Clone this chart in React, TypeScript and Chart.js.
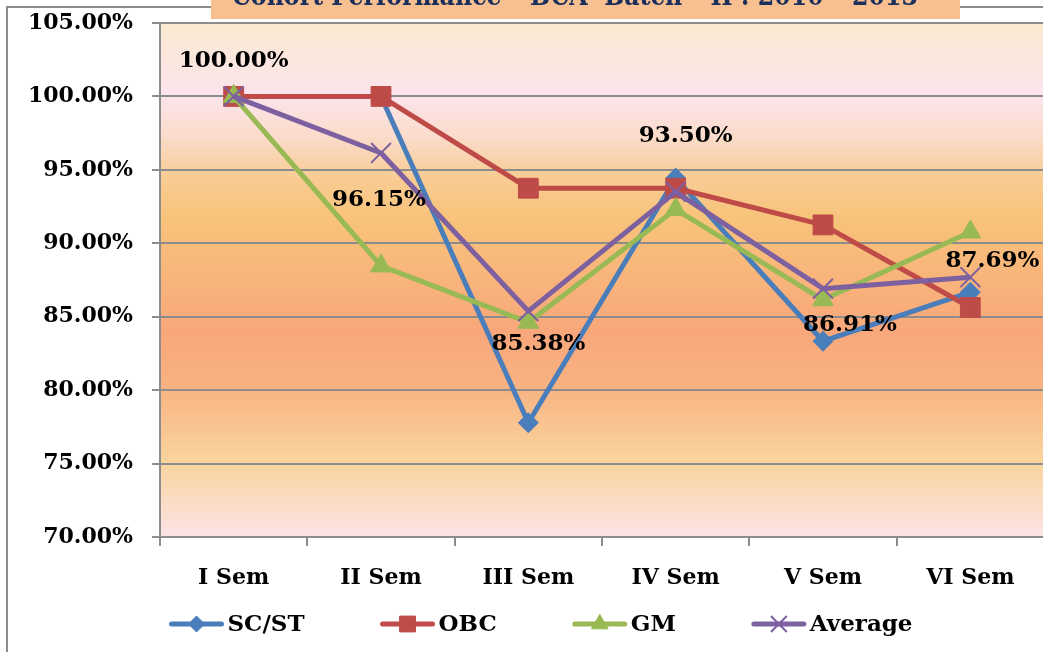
import React, { useEffect, useRef } from 'react';
import { Chart, registerables } from 'chart.js';
import { drawPoint } from 'chart.js/helpers';

Chart.register(...registerables);

const TITLE = 'Cohort Performance – BCA  Batch – II : 2010 – 2013';
const categories = ['I Sem', 'II Sem', 'III Sem', 'IV Sem', 'V Sem', 'VI Sem'];
const seriesNames = ['SC/ST', 'OBC', 'GM', 'Average'];
const scst = [100, 100, 77.78, 94.44, 83.33, 86.67];
const obc = [100, 100, 93.75, 93.75, 91.25, 85.63];
const gm = [100, 88.46, 84.62, 92.31, 86.15, 90.77];
const average = [100, 96.15, 85.38, 93.5, 86.91, 87.69];
const yMin = 70;
const yMax = 105;
const yStep = 5;

// label placement offsets (style only) for the Average data labels
const labelOffsets = [
  [0, -35],
  [-2, 47],
  [10, 33],
  [10, -56],
  [27, 36],
  [22, -16],
];

const FONT = 'DejaVu Serif';
const COLORS = ['#4A7EBB', '#BE4B48', '#98B954', '#7D60A0'];

const backgroundPlugin = {
  id: 'bgPlugin',
  beforeDraw(chart: any) {
    const { ctx, chartArea } = chart;
    const { left, right, top, bottom } = chartArea;
    ctx.save();
    const g = ctx.createLinearGradient(0, top, 0, bottom);
    g.addColorStop(0, '#FAE9D0');
    g.addColorStop(0.14, '#FCE4EC');
    g.addColorStop(0.22, '#FBDCCB');
    g.addColorStop(0.3, '#F9CC94');
    g.addColorStop(0.38, '#F8C37A');
    g.addColorStop(0.6, '#F8A77B');
    g.addColorStop(0.7, '#F8B181');
    g.addColorStop(0.85, '#F9D49C');
    g.addColorStop(1, '#FCE3E6');
    ctx.fillStyle = g;
    ctx.fillRect(left, top, right - left, bottom - top);
    // outer frame
    ctx.strokeStyle = '#8C8C8C';
    ctx.lineWidth = 2;
    ctx.beginPath();
    ctx.moveTo(7, 660);
    ctx.lineTo(7, 7);
    ctx.lineTo(1070, 7);
    ctx.stroke();
    ctx.restore();
  },
};

const labelPlugin = {
  id: 'avgLabels',
  afterDatasetsDraw(chart: any) {
    const { ctx } = chart;
    const meta = chart.getDatasetMeta(3);
    const data = chart.data.datasets[3].data as number[];
    ctx.save();
    ctx.font = `bold 23px "${FONT}"`;
    ctx.fillStyle = '#000';
    ctx.textAlign = 'center';
    ctx.textBaseline = 'middle';
    meta.data.forEach((pt: any, i: number) => {
      const [dx, dy] = labelOffsets[i];
      ctx.fillText(data[i].toFixed(2) + '%', pt.x + dx, pt.y + dy);
    });
    ctx.restore();
  },
};

const titleLegendPlugin = {
  id: 'titleLegend',
  afterDraw(chart: any) {
    const { ctx } = chart;
    ctx.save();
    // title box (cut off at top)
    ctx.fillStyle = '#F8C090';
    ctx.fillRect(211, 0, 749, 19);
    ctx.font = `bold 27px "${FONT}"`;
    ctx.fillStyle = '#1B2F5C';
    ctx.textBaseline = 'alphabetic';
    ctx.textAlign = 'left';
    const tw = ctx.measureText(TITLE).width;
    const target = 686;
    ctx.translate(232, 5);
    ctx.scale(target / tw, 1);
    ctx.fillText(TITLE, 0, 0);
    ctx.restore();

    // legend
    ctx.save();
    ctx.font = `bold 23px "${FONT}"`;
    const lineW = 54;
    const gapText = 4;
    const gapItem = 76;
    const widths = chart.data.datasets.map((d: any) => ctx.measureText(d.label).width);
    const total =
      widths.reduce((a: number, w: number) => a + lineW + gapText + w, 0) + gapItem * (widths.length - 1);
    let x = 541 - total / 2;
    const y = 624;
    chart.data.datasets.forEach((d: any, i: number) => {
      ctx.strokeStyle = d.borderColor;
      ctx.lineWidth = 5;
      ctx.lineCap = 'round';
      ctx.beginPath();
      ctx.moveTo(x + 2, y);
      ctx.lineTo(x + lineW - 2, y);
      ctx.stroke();
      ctx.lineCap = 'butt';
      ctx.fillStyle = d.pointBackgroundColor;
      ctx.strokeStyle = d.pointBorderColor;
      ctx.lineWidth = d.pointBorderWidth;
      drawPoint(ctx, { pointStyle: d.pointStyle, radius: d.pointRadius * 0.8, borderWidth: d.pointBorderWidth, rotation: 0 } as any, x + lineW / 2, y);
      ctx.fillStyle = '#000';
      ctx.textAlign = 'left';
      ctx.textBaseline = 'middle';
      ctx.fillText(d.label, x + lineW + gapText, y + 1);
      x += lineW + gapText + widths[i] + gapItem;
    });
    ctx.restore();
  },
};

function mkDataset(label: string, data: number[], color: string, style: string, radius: number, bw: number, order: number) {
  return {
    label,
    data,
    borderColor: color,
    backgroundColor: color,
    borderWidth: 5,
    pointStyle: style,
    pointRadius: radius,
    pointHoverRadius: radius,
    pointBackgroundColor: color,
    pointBorderColor: color,
    pointBorderWidth: bw,
    tension: 0,
    order,
    borderJoinStyle: 'round',
    clip: false,
  };
}

export default function App() {
  const ref = useRef<HTMLCanvasElement | null>(null);
  useEffect(() => {
    if (!ref.current) return;
    Chart.defaults.font.family = FONT;
    const chart = new Chart(ref.current, {
      type: 'line',
      data: {
        labels: categories,
        datasets: [
          mkDataset(seriesNames[0], scst, COLORS[0], 'rectRot', 10, 1, 3),
          mkDataset(seriesNames[1], obc, COLORS[1], 'rect', 14, 1, 2),
          mkDataset(seriesNames[2], gm, COLORS[2], 'triangle', 12, 1, 1),
          mkDataset(seriesNames[3], average, COLORS[3], 'crossRot', 14, 2, 0),
        ] as any,
      },
      options: {
        animation: false,
        responsive: false,
        devicePixelRatio: 1,
        events: [],
        layout: { padding: { top: 23, right: 6, left: 0, bottom: 0 } },
        plugins: {
          legend: { display: false },
          tooltip: { enabled: false },
          title: { display: false },
        },
        scales: {
          x: {
            type: 'category',
            offset: true,
            afterFit(scale: any) {
              scale.height = 115;
              scale.paddingLeft = 0;
              scale.paddingRight = 0;
            },
            grid: {
              offset: true,
              drawOnChartArea: false,
              drawTicks: true,
              tickLength: 9,
              color: '#8C8C8C',
              lineWidth: 2,
            },
            border: { display: true, color: '#8C8C8C', width: 2 },
            ticks: {
              color: '#000',
              font: { family: FONT, size: 22, weight: 'bold' },
              padding: 19,
              maxRotation: 0,
              autoSkip: false,
            },
          },
          y: {
            min: yMin,
            max: yMax,
            afterFit(scale: any) {
              scale.width = 160;
              scale.paddingTop = 0;
              scale.paddingBottom = 0;
            },
            grid: {
              color: '#8C8C8C',
              lineWidth: 2,
              drawTicks: true,
              tickLength: 8,
            },
            border: { display: true, color: '#8C8C8C', width: 2 },
            ticks: {
              stepSize: yStep,
              color: '#000',
              font: { family: FONT, size: 22, weight: 'bold' },
              padding: 19,
              callback: (v: any) => Number(v).toFixed(2) + '%',
            },
          },
        },
      },
      plugins: [backgroundPlugin, labelPlugin, titleLegendPlugin],
    } as any);
    return () => chart.destroy();
  }, []);
  return (
    <div
      style={{
        position: 'fixed',
        left: 0,
        top: 0,
        width: 1043,
        height: 652,
        overflow: 'hidden',
        background: '#fff',
      }}
    >
      <canvas ref={ref} width={1060} height={652} style={{ display: 'block' }} />
    </div>
  );
}
